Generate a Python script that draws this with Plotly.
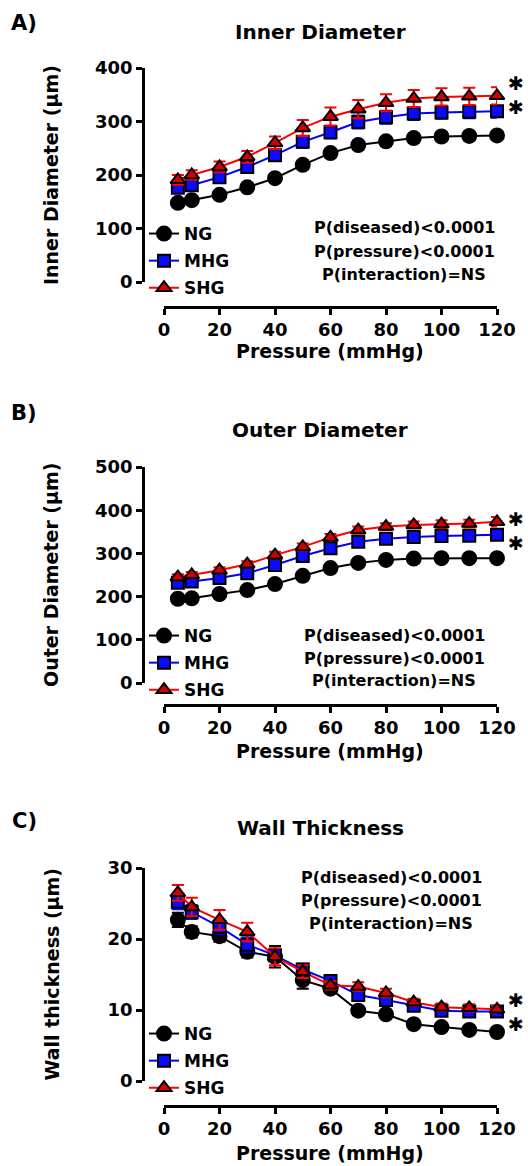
import plotly.graph_objects as go

W, H = 528, 1166

pressure = [5, 10, 20, 30, 40, 50, 60, 70, 80, 90, 100, 110, 120]
groups = ["NG", "MHG", "SHG"]

# Panel A: inner diameter (um)
inner_ng = [148, 153, 163, 177, 194, 219, 241, 256, 263, 269, 272, 273, 274]
inner_mhg = [176, 181, 196, 215, 237, 262, 280, 299, 308, 315, 317, 318, 319]
inner_shg = [191, 200, 215, 234, 260, 288, 309, 323, 335, 343, 346, 347, 348]
inner_ng_err = [5, 5, 6, 6, 7, 8, 8, 8, 8, 8, 8, 8, 8]
inner_mhg_err = [8, 8, 8, 9, 10, 11, 12, 12, 12, 12, 12, 12, 12]
inner_shg_err = [9, 9, 10, 11, 12, 15, 17, 17, 16, 16, 16, 16, 16]

# Panel B: outer diameter (um)
outer_ng = [195, 196, 206, 215, 229, 248, 266, 278, 285, 288, 289, 289, 289]
outer_mhg = [232, 235, 243, 254, 273, 294, 312, 327, 334, 338, 340, 341, 343]
outer_shg = [245, 250, 261, 275, 296, 315, 337, 354, 362, 366, 368, 369, 373]
outer_ng_err = [5, 5, 5, 5, 6, 6, 6, 6, 6, 6, 6, 6, 6]
outer_mhg_err = [6, 6, 6, 6, 7, 7, 7, 7, 7, 7, 7, 7, 7]
outer_shg_err = [7, 7, 7, 7, 8, 8, 8, 8, 8, 8, 9, 9, 11]

# Panel C: wall thickness (um)
wall_ng = [22.7, 21.0, 20.4, 18.2, 17.5, 14.2, 13.0, 9.9, 9.4, 8.0, 7.6, 7.2, 6.9]
wall_mhg = [25.2, 23.8, 21.7, 19.2, 17.7, 15.7, 14.1, 12.1, 11.4, 10.6, 9.9, 9.8, 9.8]
wall_shg = [26.5, 24.5, 22.7, 21.0, 17.5, 15.4, 13.5, 13.3, 12.4, 11.1, 10.4, 10.3, 10.1]
wall_ng_err = [1.0, 0.8, 0.8, 0.8, 1.5, 1.2, 0.6, 0.5, 0.5, 0.4, 0.4, 0.4, 0.4]
wall_mhg_err = [1.0, 1.0, 1.0, 1.0, 0.8, 0.8, 0.6, 0.6, 0.6, 0.5, 0.5, 0.5, 0.5]
wall_shg_err = [1.1, 1.3, 1.4, 1.3, 1.2, 0.9, 0.6, 0.6, 0.6, 0.5, 0.5, 0.5, 0.5]

panel_letters = ["A)", "B)", "C)"]
panel_titles = ["Inner Diameter", "Outer Diameter", "Wall Thickness"]
y_titles = ["Inner Diameter (µm)", "Outer Diameter (µm)", "Wall thickness (µm)"]
x_title = "Pressure (mmHg)"
x_ticks = [0, 20, 40, 60, 80, 100, 120]
y_ranges = [[0, 400], [0, 500], [0, 30]]
y_dticks = [100, 100, 10]
p_text = ["P(diseased)<0.0001", "P(pressure)<0.0001", "P(interaction)=NS"]
star_text = "✱"

FONT = "DejaVu Sans"


def px(x):
    return x / W


def py(y):
    return 1 - y / H


styles = {
    "NG": dict(symbol="circle", fill="black", line="black", size=14),
    "MHG": dict(symbol="square", fill="#0a0aff", line="blue", size=12),
    "SHG": dict(symbol="triangle-up", fill="#d40000", line="red", size=13),
}

panels = [
    dict(vals=[inner_ng, inner_mhg, inner_shg], errs=[inner_ng_err, inner_mhg_err, inner_shg_err],
         ydom=(282, 68), xpos=307, letter_y=23, title_y=32, xt_y=351,
         p_x=404, p_y=[228, 251, 274], leg_y=216, star_shift=1),
    dict(vals=[outer_ng, outer_mhg, outer_shg], errs=[outer_ng_err, outer_mhg_err, outer_shg_err],
         ydom=(683, 467), xpos=705, letter_y=413, title_y=430, xt_y=751,
         p_x=394, p_y=[635, 658, 680], leg_y=618, star_shift=-9),
    dict(vals=[wall_ng, wall_mhg, wall_shg], errs=[wall_ng_err, wall_mhg_err, wall_shg_err],
         ydom=(1081, 868), xpos=1106, letter_y=821, title_y=828, xt_y=1153,
         p_x=391, p_y=[877, 900, 923], leg_y=1016, star_shift=-3),
]

fig = go.Figure()
annotations = []
layout_axes = {}

for i, pn in enumerate(panels):
    k = "" if i == 0 else str(i + 1)
    legname = "legend" + k
    for g, vals, errs in zip(groups, pn["vals"], pn["errs"]):
        st = styles[g]
        fig.add_trace(go.Scatter(
            x=pressure, y=vals, name=g, mode="lines+markers",
            xaxis="x" + k, yaxis="y" + k, legend=legname, legendgroup=g + k,
            line=dict(color=st["line"], width=2),
            marker=dict(symbol=st["symbol"], size=st["size"], color=st["fill"],
                        line=dict(color="black", width=2)),
            error_y=dict(type="data", array=errs, visible=True, color=st["line"],
                         thickness=2, width=6),
            cliponaxis=False,
        ))
    axis_common = dict(showline=True, linecolor="black", linewidth=2.5, ticks="outside",
                       ticklen=6, tickwidth=2.5, tickcolor="black", showgrid=False,
                       zeroline=False, fixedrange=True, automargin=False,
                       tickfont=dict(family=FONT, size=18, color="black", weight="bold"))
    layout_axes["xaxis" + k] = dict(axis_common, domain=[px(164), px(497)], range=[0, 120],
                                    tickvals=x_ticks, anchor="free", position=py(pn["xpos"]))
    layout_axes["yaxis" + k] = dict(axis_common, domain=[py(pn["ydom"][0]), py(pn["ydom"][1])],
                                    range=y_ranges[i], dtick=y_dticks[i], tick0=0,
                                    anchor="free", position=px(143))
    layout_axes[legname] = dict(x=px(144), y=py(pn["leg_y"]), xanchor="left", yanchor="top",
                                bgcolor="rgba(0,0,0,0)", itemwidth=30, tracegroupgap=2,
                                font=dict(family=FONT, size=17, color="black", weight="bold"))

    annotations.append(dict(text=panel_letters[i], x=px(24), y=py(pn["letter_y"]), xref="paper",
                            yref="paper", showarrow=False, xanchor="center", yanchor="middle",
                            font=dict(family=FONT, size=21, color="black", weight="bold")))
    annotations.append(dict(text=panel_titles[i], x=px(320), y=py(pn["title_y"]), xref="paper",
                            yref="paper", showarrow=False, xanchor="center", yanchor="middle",
                            font=dict(family=FONT, size=20, color="black", weight="bold")))
    ymid = (pn["ydom"][0] + pn["ydom"][1]) / 2
    annotations.append(dict(text=y_titles[i], x=px(51), y=py(ymid), xref="paper", yref="paper",
                            showarrow=False, textangle=-90, xanchor="center", yanchor="middle",
                            font=dict(family=FONT, size=19, color="black", weight="bold")))
    annotations.append(dict(text=x_title, x=px(330), y=py(pn["xt_y"]), xref="paper", yref="paper",
                            showarrow=False, xanchor="center", yanchor="middle",
                            font=dict(family=FONT, size=19, color="black", weight="bold")))
    for t, yy in zip(p_text, pn["p_y"]):
        annotations.append(dict(text=t, x=px(pn["p_x"]), y=py(yy), xref="paper", yref="paper",
                                showarrow=False, xanchor="center", yanchor="middle",
                                font=dict(family=FONT, size=16, color="black", weight="bold")))
    # significance asterisks (SHG and MHG vs NG), stacked next to the end points
    for anchor in ["bottom", "top"]:
        annotations.append(dict(text=star_text, x=pressure[-1], y=pn["vals"][2][-1],
                                xref="x" + k, yref="y" + k, showarrow=False,
                                xanchor="center", yanchor=anchor, xshift=19,
                                yshift=pn["star_shift"], borderpad=0,
                                font=dict(family=FONT, size=19, color="black")))

fig.update_layout(
    width=W, height=H, margin=dict(l=0, r=0, t=0, b=0, autoexpand=False),
    paper_bgcolor="white", plot_bgcolor="white",
    annotations=annotations, **layout_axes,
)

post = (
    "document.documentElement.style.margin='0';"
    "document.documentElement.style.overflow='hidden';"
    "document.body.style.margin='0';"
    "document.body.style.overflow='hidden';"
    "var gd=document.getElementsByClassName('plotly-graph-div')[0];"
    "gd.style.position='absolute';gd.style.left='0px';gd.style.top='0px';"
)
fig.write_html("out.html", config={"displayModeBar": False}, post_script=post)
